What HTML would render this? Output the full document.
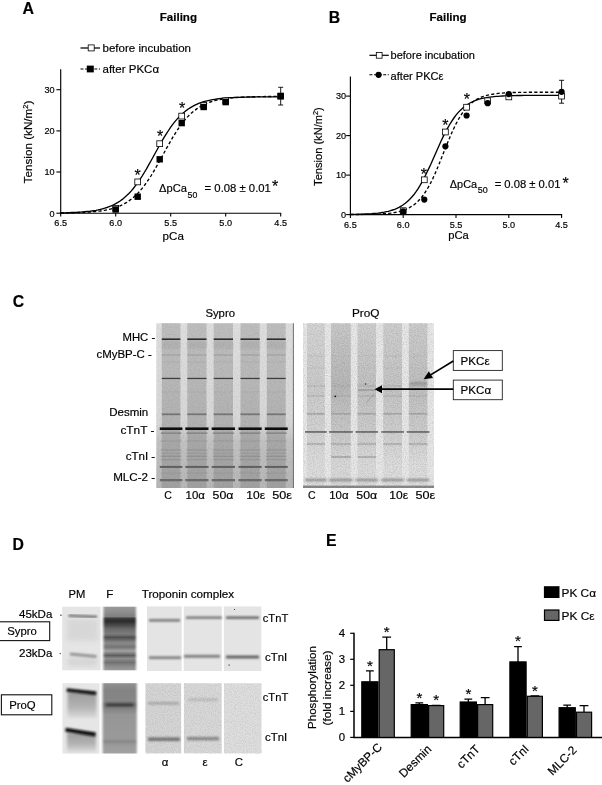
<!DOCTYPE html>
<html><head><meta charset="utf-8"><title>Figure</title>
<style>
html,body{margin:0;padding:0;background:#fff;}
body{width:602px;height:785px;overflow:hidden;font-family:"Liberation Sans",sans-serif;}
svg{display:block}
text{font-family:"Liberation Sans",sans-serif;fill:#000;stroke:#000;stroke-width:0.18px}
.b{font-weight:bold}
</style></head><body>
<svg width="602" height="785" viewBox="0 0 602 785">
<defs>
<filter id="bl1" x="-5%" y="-50%" width="110%" height="200%"><feGaussianBlur stdDeviation="0.6"/></filter>
<filter id="bl2" x="-5%" y="-100%" width="110%" height="300%"><feGaussianBlur stdDeviation="1.2"/></filter>
<filter id="bl3" x="-30%" y="-40%" width="160%" height="180%"><feGaussianBlur stdDeviation="2.5"/></filter>
<filter id="blx" x="-10%" y="-5%" width="120%" height="110%"><feGaussianBlur stdDeviation="0.55 0.1"/></filter>
<filter id="nz" x="0" y="0" width="100%" height="100%"><feTurbulence type="fractalNoise" baseFrequency="0.7" numOctaves="2" seed="3"/><feColorMatrix type="matrix" values="0 0 0 0 0 0 0 0 0 0 0 0 0 0 0 0.9 0 0 0 -0.3"/></filter>
<filter id="nz2" x="0" y="0" width="100%" height="100%"><feTurbulence type="fractalNoise" baseFrequency="0.9" numOctaves="2" seed="8"/><feColorMatrix type="matrix" values="0 0 0 0 0 0 0 0 0 0 0 0 0 0 0 1.3 0 0 0 -0.48"/></filter>
<linearGradient id="laneg" x1="0" y1="0" x2="0" y2="1"><stop offset="0" stop-color="#bfbfbf"/><stop offset="0.33" stop-color="#bababa"/><stop offset="0.62" stop-color="#b2b2b2"/><stop offset="0.7" stop-color="#aaaaaa"/><stop offset="1" stop-color="#a2a2a2"/></linearGradient>
<linearGradient id="gapg" x1="0" y1="0" x2="0" y2="1"><stop offset="0" stop-color="#e0e0e0"/><stop offset="0.6" stop-color="#d9d9d9"/><stop offset="0.72" stop-color="#c4c4c4"/><stop offset="1" stop-color="#b8b8b8"/></linearGradient>
<filter id="bl1b" x="-10%" y="-100%" width="120%" height="300%"><feGaussianBlur stdDeviation="0.9"/></filter>
<filter id="ble" x="-10%" y="-5%" width="120%" height="110%"><feGaussianBlur stdDeviation="0.8 0.6"/></filter>
<linearGradient id="fsy" x1="0" y1="0" x2="0" y2="1">
<stop offset="0" stop-color="#9a9a9a"/><stop offset="0.083" stop-color="#8e8e8e"/><stop offset="0.154" stop-color="#808080"/><stop offset="0.186" stop-color="#3a3a3a"/><stop offset="0.225" stop-color="#2c2c2c"/><stop offset="0.288" stop-color="#484848"/><stop offset="0.35" stop-color="#6a6a6a"/><stop offset="0.43" stop-color="#7c7c7c"/><stop offset="0.484" stop-color="#505050"/><stop offset="0.524" stop-color="#6c6c6c"/><stop offset="0.57" stop-color="#8a8a8a"/><stop offset="0.634" stop-color="#747474"/><stop offset="0.697" stop-color="#a2a2a2"/><stop offset="0.767" stop-color="#5e5e5e"/><stop offset="0.814" stop-color="#8c8c8c"/><stop offset="0.877" stop-color="#727272"/><stop offset="0.932" stop-color="#8a8a8a"/><stop offset="1" stop-color="#9c9c9c"/></linearGradient>
<linearGradient id="fpq" x1="0" y1="0" x2="0" y2="1">
<stop offset="0" stop-color="#909090"/><stop offset="0.1" stop-color="#848484"/><stop offset="0.25" stop-color="#868686"/><stop offset="0.285" stop-color="#787878"/><stop offset="0.315" stop-color="#747474"/><stop offset="0.35" stop-color="#808080"/><stop offset="0.45" stop-color="#969696"/><stop offset="0.78" stop-color="#9a9a9a"/><stop offset="0.83" stop-color="#8a8a8a"/><stop offset="0.88" stop-color="#9a9a9a"/><stop offset="1" stop-color="#a2a2a2"/></linearGradient>
<linearGradient id="smg" x1="0" y1="0" x2="0" y2="1"><stop offset="0" stop-color="#9c9c9c"/><stop offset="0.6" stop-color="#b4b4b4"/><stop offset="1" stop-color="#dcdcdc"/></linearGradient>
<filter id="bl2b" x="-20%" y="-20%" width="140%" height="140%"><feGaussianBlur stdDeviation="1.6"/></filter>
<linearGradient id="pl0" x1="0" y1="0" x2="0" y2="1"><stop offset="0" stop-color="#d6d6d6"/><stop offset="0.38" stop-color="#cdcdcd"/><stop offset="0.66" stop-color="#d4d4d4"/><stop offset="0.85" stop-color="#dedede"/><stop offset="1" stop-color="#dedede"/></linearGradient>
<linearGradient id="pl1" x1="0" y1="0" x2="0" y2="1"><stop offset="0" stop-color="#cacaca"/><stop offset="0.38" stop-color="#b9b9b9"/><stop offset="0.66" stop-color="#cacaca"/><stop offset="0.85" stop-color="#dadada"/><stop offset="1" stop-color="#dadada"/></linearGradient>
<linearGradient id="pl2" x1="0" y1="0" x2="0" y2="1"><stop offset="0" stop-color="#d0d0d0"/><stop offset="0.38" stop-color="#c3c3c3"/><stop offset="0.66" stop-color="#cecece"/><stop offset="0.85" stop-color="#dcdcdc"/><stop offset="1" stop-color="#dcdcdc"/></linearGradient>
<linearGradient id="pl3" x1="0" y1="0" x2="0" y2="1"><stop offset="0" stop-color="#d0d0d0"/><stop offset="0.38" stop-color="#c6c6c6"/><stop offset="0.66" stop-color="#d0d0d0"/><stop offset="0.85" stop-color="#dedede"/><stop offset="1" stop-color="#dedede"/></linearGradient>
<linearGradient id="pl4" x1="0" y1="0" x2="0" y2="1"><stop offset="0" stop-color="#cecece"/><stop offset="0.38" stop-color="#c1c1c1"/><stop offset="0.66" stop-color="#cecece"/><stop offset="0.85" stop-color="#dedede"/><stop offset="1" stop-color="#dedede"/></linearGradient>
</defs>
<rect width="602" height="785" fill="#fff"/>

<text x="22.5" y="14.3" font-size="15.9" class="b">A</text>
<text x="159.7" y="21.3" font-size="11.8" textLength="37.3" lengthAdjust="spacingAndGlyphs" class="b">Failing</text>
<path d="M60.7 69.2V213.2H281.2" fill="none" stroke="#000" stroke-width="1.15"/>
<path d="M60.7 213.2v3.3" stroke="#000" stroke-width="1.1"/>
<text x="60.7" y="226.1" font-size="9.1" text-anchor="middle">6.5</text>
<path d="M115.7 213.2v3.3" stroke="#000" stroke-width="1.1"/>
<text x="115.7" y="226.1" font-size="9.1" text-anchor="middle">6.0</text>
<path d="M170.7 213.2v3.3" stroke="#000" stroke-width="1.1"/>
<text x="170.7" y="226.1" font-size="9.1" text-anchor="middle">5.5</text>
<path d="M225.7 213.2v3.3" stroke="#000" stroke-width="1.1"/>
<text x="225.7" y="226.1" font-size="9.1" text-anchor="middle">5.0</text>
<path d="M280.7 213.2v3.3" stroke="#000" stroke-width="1.1"/>
<text x="280.7" y="226.1" font-size="9.1" text-anchor="middle">4.5</text>
<path d="M60.7 213.2h-4.3" stroke="#000" stroke-width="1.1"/>
<text x="54.6" y="216.5" font-size="9.1" text-anchor="end">0</text>
<path d="M60.7 172.0h-4.3" stroke="#000" stroke-width="1.1"/>
<text x="54.6" y="175.3" font-size="9.1" text-anchor="end">10</text>
<path d="M60.7 130.9h-4.3" stroke="#000" stroke-width="1.1"/>
<text x="54.6" y="134.2" font-size="9.1" text-anchor="end">20</text>
<path d="M60.7 89.7h-4.3" stroke="#000" stroke-width="1.1"/>
<text x="54.6" y="93.0" font-size="9.1" text-anchor="end">30</text>
<path d="M60.7 213.0L62.9 213.0L65.1 213.0L67.3 212.9L69.5 212.9L71.7 212.8L73.9 212.8L76.1 212.7L78.3 212.6L80.5 212.5L82.7 212.5L84.9 212.3L87.1 212.2L89.3 212.1L91.5 211.9L93.7 211.7L95.9 211.5L98.1 211.2L100.3 211.0L102.5 210.6L104.7 210.3L106.9 209.8L109.1 209.4L111.3 208.8L113.5 208.2L115.7 207.5L117.9 206.7L120.1 205.8L122.3 204.8L124.5 203.6L126.7 202.4L128.9 200.9L131.1 199.3L133.3 197.5L135.5 195.6L137.7 193.4L139.9 191.0L142.1 188.4L144.3 185.6L146.5 182.6L148.7 179.4L150.9 176.0L153.1 172.4L155.3 168.6L157.5 164.8L159.7 160.8L161.9 156.8L164.1 152.7L166.3 148.7L168.5 144.8L170.7 140.9L172.9 137.2L175.1 133.6L177.3 130.2L179.5 126.9L181.7 123.9L183.9 121.1L186.1 118.5L188.3 116.1L190.5 114.0L192.7 112.0L194.9 110.2L197.1 108.6L199.3 107.2L201.5 105.9L203.7 104.8L205.9 103.7L208.1 102.8L210.3 102.0L212.5 101.3L214.7 100.7L216.9 100.2L219.1 99.7L221.3 99.3L223.5 98.9L225.7 98.6L227.9 98.3L230.1 98.0L232.3 97.8L234.5 97.6L236.7 97.5L238.9 97.3L241.1 97.2L243.3 97.1L245.5 97.0L247.7 96.9L249.9 96.8L252.1 96.8L254.3 96.7L256.5 96.7L258.7 96.6L260.9 96.6L263.1 96.6L265.3 96.5L267.5 96.5L269.7 96.5L271.9 96.5L274.1 96.4L276.3 96.4L278.5 96.4L280.7 96.4" fill="none" stroke="#000" stroke-width="1.35" stroke-dasharray="3.2 2.2"/>
<path d="M60.7 212.9L62.9 212.8L65.1 212.8L67.3 212.7L69.5 212.6L71.7 212.5L73.9 212.5L76.1 212.3L78.3 212.2L80.5 212.1L82.7 211.9L84.9 211.7L87.1 211.5L89.3 211.3L91.5 211.0L93.7 210.6L95.9 210.3L98.1 209.9L100.3 209.4L102.5 208.8L104.7 208.2L106.9 207.5L109.1 206.7L111.3 205.8L113.5 204.8L115.7 203.7L117.9 202.4L120.1 201.0L122.3 199.4L124.5 197.6L126.7 195.6L128.9 193.5L131.1 191.1L133.3 188.5L135.5 185.7L137.7 182.7L139.9 179.5L142.1 176.1L144.3 172.5L146.5 168.8L148.7 164.9L150.9 161.0L153.1 157.0L155.3 153.0L157.5 149.0L159.7 145.0L161.9 141.2L164.1 137.4L166.3 133.9L168.5 130.5L170.7 127.2L172.9 124.2L175.1 121.4L177.3 118.9L179.5 116.5L181.7 114.3L183.9 112.4L186.1 110.6L188.3 109.0L190.5 107.6L192.7 106.3L194.9 105.1L197.1 104.1L199.3 103.2L201.5 102.4L203.7 101.7L205.9 101.1L208.1 100.6L210.3 100.1L212.5 99.7L214.7 99.3L216.9 99.0L219.1 98.7L221.3 98.4L223.5 98.2L225.7 98.0L227.9 97.9L230.1 97.7L232.3 97.6L234.5 97.5L236.7 97.4L238.9 97.3L241.1 97.2L243.3 97.2L245.5 97.1L247.7 97.1L249.9 97.0L252.1 97.0L254.3 97.0L256.5 96.9L258.7 96.9L260.9 96.9L263.1 96.9L265.3 96.9L267.5 96.8L269.7 96.8L271.9 96.8L274.1 96.8L276.3 96.8L278.5 96.8L280.7 96.8" fill="none" stroke="#000" stroke-width="1.35"/>
<path d="M280.7 87.3V105.0M278.2 87.3h5M278.2 105.0h5" stroke="#000" stroke-width="0.9" fill="none"/>
<rect x="112.8" y="205.4" width="5.8" height="5.8" fill="#fff" stroke="#000" stroke-width="0.8"/>
<rect x="134.8" y="179.0" width="5.8" height="5.8" fill="#fff" stroke="#000" stroke-width="0.8"/>
<rect x="156.8" y="140.8" width="5.8" height="5.8" fill="#fff" stroke="#000" stroke-width="0.8"/>
<rect x="178.8" y="113.2" width="5.8" height="5.8" fill="#fff" stroke="#000" stroke-width="0.8"/>
<rect x="200.8" y="102.5" width="5.8" height="5.8" fill="#fff" stroke="#000" stroke-width="0.8"/>
<rect x="222.8" y="98.0" width="5.8" height="5.8" fill="#fff" stroke="#000" stroke-width="0.8"/>
<rect x="277.8" y="93.4" width="5.8" height="5.8" fill="#fff" stroke="#000" stroke-width="0.8"/>
<rect x="112.5" y="206.3" width="6.4" height="6.4" fill="#000"/>
<rect x="134.5" y="193.5" width="6.4" height="6.4" fill="#000"/>
<rect x="156.5" y="156.1" width="6.4" height="6.4" fill="#000"/>
<rect x="178.5" y="119.9" width="6.4" height="6.4" fill="#000"/>
<rect x="200.5" y="103.8" width="6.4" height="6.4" fill="#000"/>
<rect x="222.5" y="98.9" width="6.4" height="6.4" fill="#000"/>
<rect x="277.5" y="92.7" width="6.4" height="6.4" fill="#000"/>
<path d="M80.5 48h19.5" stroke="#000" stroke-width="1.25"/><rect x="88.2" y="44.9" width="6" height="6" fill="#fff" stroke="#000" stroke-width="0.8"/>
<text x="102.5" y="52" font-size="11.6" textLength="88.5" lengthAdjust="spacingAndGlyphs">before incubation</text>
<path d="M80.5 69h19.5" stroke="#000" stroke-width="1.1" stroke-dasharray="3 1.6"/><rect x="86.8" y="65.6" width="7" height="6.8" fill="#000"/>
<text x="102.5" y="73" font-size="11.6" textLength="56.6" lengthAdjust="spacingAndGlyphs">after PKCα</text>
<text transform="translate(32.3,142) rotate(-90)" font-size="11.7" text-anchor="middle">Tension (kN/m<tspan dy="-4" font-size="7.5">2</tspan><tspan dy="4">)</tspan></text>
<text x="162.6" y="239.6" font-size="11.8" textLength="21.3" lengthAdjust="spacingAndGlyphs">pCa</text>
<text x="159.1" y="192.4" font-size="11.8" textLength="27.9" lengthAdjust="spacingAndGlyphs">ΔpCa</text>
<text x="187.6" y="198" font-size="9.8" textLength="9.8" lengthAdjust="spacingAndGlyphs">50</text>
<text x="204.6" y="192.4" font-size="11.6" textLength="66.3" lengthAdjust="spacingAndGlyphs">= 0.08 ± 0.01</text>
<text x="275.0" y="192.3" font-size="16" text-anchor="middle">*</text>
<text x="137.5" y="181.3" font-size="16" text-anchor="middle">*</text>
<text x="160.0" y="142.3" font-size="16" text-anchor="middle">*</text>
<text x="182.0" y="113.8" font-size="16" text-anchor="middle">*</text>
<text x="328.8" y="23" font-size="15.8" class="b">B</text>
<text x="429.5" y="20.9" font-size="11.8" textLength="37.1" lengthAdjust="spacingAndGlyphs" class="b">Failing</text>
<path d="M350.4 76.4V214.6H562.0999999999999" fill="none" stroke="#000" stroke-width="1.15"/>
<path d="M350.4 214.6v3.3" stroke="#000" stroke-width="1.1"/>
<text x="350.4" y="227.5" font-size="9.1" text-anchor="middle">6.5</text>
<path d="M403.2 214.6v3.3" stroke="#000" stroke-width="1.1"/>
<text x="403.2" y="227.5" font-size="9.1" text-anchor="middle">6.0</text>
<path d="M456.0 214.6v3.3" stroke="#000" stroke-width="1.1"/>
<text x="456.0" y="227.5" font-size="9.1" text-anchor="middle">5.5</text>
<path d="M508.8 214.6v3.3" stroke="#000" stroke-width="1.1"/>
<text x="508.8" y="227.5" font-size="9.1" text-anchor="middle">5.0</text>
<path d="M561.6 214.6v3.3" stroke="#000" stroke-width="1.1"/>
<text x="561.6" y="227.5" font-size="9.1" text-anchor="middle">4.5</text>
<path d="M350.4 214.6h-4.3" stroke="#000" stroke-width="1.1"/>
<text x="346" y="217.9" font-size="9.1" text-anchor="end">0</text>
<path d="M350.4 175.1h-4.3" stroke="#000" stroke-width="1.1"/>
<text x="346" y="178.4" font-size="9.1" text-anchor="end">10</text>
<path d="M350.4 135.6h-4.3" stroke="#000" stroke-width="1.1"/>
<text x="346" y="138.9" font-size="9.1" text-anchor="end">20</text>
<path d="M350.4 96.1h-4.3" stroke="#000" stroke-width="1.1"/>
<text x="346" y="99.4" font-size="9.1" text-anchor="end">30</text>
<path d="M350.4 214.5L352.5 214.5L354.6 214.5L356.7 214.5L358.8 214.5L361.0 214.5L363.1 214.4L365.2 214.4L367.3 214.4L369.4 214.3L371.5 214.3L373.6 214.2L375.7 214.1L377.9 214.1L380.0 214.0L382.1 213.8L384.2 213.7L386.3 213.5L388.4 213.3L390.5 213.1L392.6 212.8L394.8 212.5L396.9 212.0L399.0 211.6L401.1 211.0L403.2 210.3L405.3 209.6L407.4 208.7L409.5 207.6L411.6 206.3L413.8 204.9L415.9 203.2L418.0 201.2L420.1 199.0L422.2 196.5L424.3 193.6L426.4 190.4L428.5 186.8L430.7 182.9L432.8 178.6L434.9 174.0L437.0 169.1L439.1 164.0L441.2 158.7L443.3 153.4L445.4 148.0L447.6 142.8L449.7 137.7L451.8 132.8L453.9 128.2L456.0 123.9L458.1 120.0L460.2 116.4L462.3 113.2L464.4 110.3L466.6 107.7L468.7 105.5L470.8 103.6L472.9 101.9L475.0 100.4L477.1 99.2L479.2 98.1L481.3 97.2L483.5 96.4L485.6 95.7L487.7 95.2L489.8 94.7L491.9 94.3L494.0 94.0L496.1 93.7L498.2 93.4L500.4 93.2L502.5 93.1L504.6 92.9L506.7 92.8L508.8 92.7L510.9 92.6L513.0 92.5L515.1 92.5L517.2 92.4L519.4 92.4L521.5 92.3L523.6 92.3L525.7 92.3L527.8 92.3L529.9 92.2L532.0 92.2L534.1 92.2L536.3 92.2L538.4 92.2L540.5 92.2L542.6 92.2L544.7 92.2L546.8 92.2L548.9 92.2L551.0 92.2L553.2 92.2L555.3 92.2L557.4 92.2L559.5 92.2L561.6 92.2" fill="none" stroke="#000" stroke-width="1.35" stroke-dasharray="3.2 2.2"/>
<path d="M350.4 214.4L352.5 214.4L354.6 214.3L356.7 214.3L358.8 214.2L361.0 214.2L363.1 214.1L365.2 214.0L367.3 213.9L369.4 213.8L371.5 213.7L373.6 213.5L375.7 213.3L377.9 213.1L380.0 212.8L382.1 212.5L384.2 212.2L386.3 211.7L388.4 211.3L390.5 210.7L392.6 210.0L394.8 209.3L396.9 208.4L399.0 207.4L401.1 206.2L403.2 204.8L405.3 203.3L407.4 201.5L409.5 199.5L411.6 197.3L413.8 194.8L415.9 191.9L418.0 188.8L420.1 185.4L422.2 181.7L424.3 177.8L426.4 173.5L428.5 169.1L430.7 164.5L432.8 159.8L434.9 155.0L437.0 150.2L439.1 145.4L441.2 140.8L443.3 136.4L445.4 132.1L447.6 128.2L449.7 124.5L451.8 121.1L453.9 118.0L456.0 115.2L458.1 112.6L460.2 110.4L462.3 108.4L464.4 106.6L466.6 105.1L468.7 103.7L470.8 102.5L472.9 101.5L475.0 100.6L477.1 99.9L479.2 99.2L481.3 98.7L483.5 98.2L485.6 97.8L487.7 97.4L489.8 97.1L491.9 96.8L494.0 96.6L496.1 96.4L498.2 96.3L500.4 96.1L502.5 96.0L504.6 95.9L506.7 95.8L508.8 95.7L510.9 95.7L513.0 95.6L515.1 95.6L517.2 95.5L519.4 95.5L521.5 95.5L523.6 95.4L525.7 95.4L527.8 95.4L529.9 95.4L532.0 95.4L534.1 95.4L536.3 95.4L538.4 95.4L540.5 95.3L542.6 95.3L544.7 95.3L546.8 95.3L548.9 95.3L551.0 95.3L553.2 95.3L555.3 95.3L557.4 95.3L559.5 95.3L561.6 95.3" fill="none" stroke="#000" stroke-width="1.35"/>
<path d="M561.6 80.3V103.2M559.1 80.3h5M559.1 103.2h5" stroke="#000" stroke-width="0.9" fill="none"/>
<rect x="400.3" y="207.8" width="5.8" height="5.8" fill="#fff" stroke="#000" stroke-width="0.8"/>
<rect x="421.4" y="176.9" width="5.8" height="5.8" fill="#fff" stroke="#000" stroke-width="0.8"/>
<rect x="442.5" y="129.1" width="5.8" height="5.8" fill="#fff" stroke="#000" stroke-width="0.8"/>
<rect x="463.7" y="104.3" width="5.8" height="5.8" fill="#fff" stroke="#000" stroke-width="0.8"/>
<rect x="484.8" y="97.9" width="5.8" height="5.8" fill="#fff" stroke="#000" stroke-width="0.8"/>
<rect x="505.9" y="94.0" width="5.8" height="5.8" fill="#fff" stroke="#000" stroke-width="0.8"/>
<rect x="558.7" y="93.2" width="5.8" height="5.8" fill="#fff" stroke="#000" stroke-width="0.8"/>
<circle cx="403.2" cy="211.4" r="3.1" fill="#000"/>
<circle cx="424.3" cy="199.6" r="3.1" fill="#000"/>
<circle cx="445.4" cy="146.3" r="3.1" fill="#000"/>
<circle cx="466.6" cy="115.5" r="3.1" fill="#000"/>
<circle cx="487.7" cy="103.2" r="3.1" fill="#000"/>
<circle cx="508.8" cy="94.1" r="3.1" fill="#000"/>
<circle cx="561.6" cy="91.8" r="3.1" fill="#000"/>
<path d="M369.4 55.3h19.4" stroke="#000" stroke-width="1.2"/><rect x="376.3" y="52.4" width="5.8" height="5.8" fill="#fff" stroke="#000" stroke-width="0.8"/>
<text x="390.6" y="59.3" font-size="11.1" textLength="84.3" lengthAdjust="spacingAndGlyphs">before incubation</text>
<path d="M369.4 74.8h19.4" stroke="#000" stroke-width="1.1" stroke-dasharray="3 1.6"/><circle cx="378.6" cy="74.8" r="3.1" fill="#000"/>
<text x="390.6" y="79.6" font-size="11.1" textLength="52.9" lengthAdjust="spacingAndGlyphs">after PKCε</text>
<text transform="translate(321.8,146.6) rotate(-90)" font-size="11.1" text-anchor="middle">Tension (kN/m<tspan dy="-4" font-size="7.2">2</tspan><tspan dy="4">)</tspan></text>
<text x="448.2" y="239.4" font-size="11.4" textLength="20.6" lengthAdjust="spacingAndGlyphs">pCa</text>
<text x="449.8" y="187.9" font-size="11.4" textLength="27.3" lengthAdjust="spacingAndGlyphs">ΔpCa</text>
<text x="477.8" y="192.9" font-size="9.8" textLength="10" lengthAdjust="spacingAndGlyphs">50</text>
<text x="494.7" y="187.9" font-size="11.4" textLength="65.8" lengthAdjust="spacingAndGlyphs">= 0.08 ± 0.01</text>
<text x="565.7" y="188.8" font-size="16" text-anchor="middle">*</text>
<text x="423.8" y="180.1" font-size="16" text-anchor="middle">*</text>
<text x="445.4" y="130.9" font-size="16" text-anchor="middle">*</text>
<text x="466.9" y="105.0" font-size="16" text-anchor="middle">*</text>
<text x="12.8" y="307.1" font-size="15.8" class="b">C</text>
<text x="205.4" y="316.6" font-size="11.4" textLength="29.6" lengthAdjust="spacingAndGlyphs">Sypro</text>
<text x="352" y="316.6" font-size="11.4" textLength="27.5" lengthAdjust="spacingAndGlyphs">ProQ</text>
<text x="122.5" y="341.3" font-size="11.4" textLength="32.7" lengthAdjust="spacingAndGlyphs">MHC -</text>
<text x="96.5" y="358.3" font-size="11.4" textLength="55.3" lengthAdjust="spacingAndGlyphs">cMyBP-C -</text>
<text x="109.2" y="416.3" font-size="11.4" textLength="39.1" lengthAdjust="spacingAndGlyphs">Desmin</text>
<text x="120.4" y="433.5" font-size="11.4" textLength="34.0" lengthAdjust="spacingAndGlyphs">cTnT -</text>
<text x="125.7" y="459.6" font-size="11.4" textLength="29.5" lengthAdjust="spacingAndGlyphs">cTnI -</text>
<text x="113.2" y="481.4" font-size="11.4" textLength="42.0" lengthAdjust="spacingAndGlyphs">MLC-2 -</text>
<rect x="156.3" y="323.3" width="137.7" height="164.7" fill="url(#gapg)"/>
<g filter="url(#blx)">
<rect x="161.8" y="323.3" width="18.6" height="164.7" fill="url(#laneg)"/>
<rect x="187.3" y="323.3" width="19.2" height="164.7" fill="url(#laneg)"/>
<rect x="213.7" y="323.3" width="19.3" height="164.7" fill="url(#laneg)"/>
<rect x="240.5" y="323.3" width="19.2" height="164.7" fill="url(#laneg)"/>
<rect x="266.8" y="323.3" width="18.9" height="164.7" fill="url(#laneg)"/>
</g>
<rect x="154.3" y="488" width="141.7" height="6" fill="#fff"/>
<path d="M293.4 323.3V488" stroke="#666" stroke-width="0.9"/>
<rect x="161.8" y="338.4" width="18.6" height="1.6" fill="#2c2c2c" opacity="1" filter="url(#bl1)"/>
<rect x="161.8" y="341.0" width="18.6" height="8" fill="#aaa" opacity="0.5" filter="url(#bl2)"/>
<rect x="161.8" y="354.4" width="18.6" height="1.2" fill="#999" opacity="0.7" filter="url(#bl1)"/>
<rect x="161.8" y="361.4" width="18.6" height="1.2" fill="#aaa" opacity="0.5" filter="url(#bl1)"/>
<rect x="161.8" y="377.8" width="18.6" height="1.3" fill="#404040" opacity="1" filter="url(#bl1)"/>
<rect x="161.8" y="391.4" width="18.6" height="1.2" fill="#aaa" opacity="0.5" filter="url(#bl1)"/>
<rect x="161.8" y="413.4" width="18.6" height="1.8" fill="#777" opacity="1" filter="url(#bl1)"/>
<rect x="159.8" y="427.4" width="22.6" height="2.6" fill="#101010" opacity="1" filter="url(#bl1)"/>
<rect x="160.8" y="432.4" width="20.6" height="1.5" fill="#777" opacity="0.7" filter="url(#bl1)"/>
<rect x="160.8" y="440.4" width="20.6" height="1.3" fill="#999" opacity="0.6" filter="url(#bl1)"/>
<rect x="160.8" y="449.3" width="20.6" height="1.4" fill="#8c8c8c" opacity="0.5" filter="url(#bl1)"/>
<rect x="160.8" y="452.6" width="20.6" height="1.3" fill="#909090" opacity="0.4" filter="url(#bl1)"/>
<rect x="160.8" y="455.6" width="20.6" height="1.4" fill="#888" opacity="0.55" filter="url(#bl1)"/>
<rect x="160.8" y="458.9" width="20.6" height="1.4" fill="#8c8c8c" opacity="0.5" filter="url(#bl1)"/>
<rect x="159.8" y="465.9" width="22.6" height="2.0" fill="#5e5e5e" opacity="0.95" filter="url(#bl1)"/>
<rect x="160.8" y="472.4" width="20.6" height="1.3" fill="#999" opacity="0.6" filter="url(#bl1)"/>
<rect x="159.8" y="479.0" width="22.6" height="2.3" fill="#6a6a6a" opacity="0.95" filter="url(#bl1)"/>
<rect x="187.3" y="338.4" width="19.2" height="1.6" fill="#2c2c2c" opacity="1" filter="url(#bl1)"/>
<rect x="187.3" y="341.0" width="19.2" height="8" fill="#aaa" opacity="0.5" filter="url(#bl2)"/>
<rect x="187.3" y="354.4" width="19.2" height="1.2" fill="#999" opacity="0.7" filter="url(#bl1)"/>
<rect x="187.3" y="361.4" width="19.2" height="1.2" fill="#aaa" opacity="0.5" filter="url(#bl1)"/>
<rect x="187.3" y="377.8" width="19.2" height="1.3" fill="#404040" opacity="1" filter="url(#bl1)"/>
<rect x="187.3" y="391.4" width="19.2" height="1.2" fill="#aaa" opacity="0.5" filter="url(#bl1)"/>
<rect x="187.3" y="413.4" width="19.2" height="1.8" fill="#777" opacity="1" filter="url(#bl1)"/>
<rect x="185.3" y="427.4" width="23.2" height="2.6" fill="#101010" opacity="1" filter="url(#bl1)"/>
<rect x="186.3" y="432.4" width="21.2" height="1.5" fill="#777" opacity="0.7" filter="url(#bl1)"/>
<rect x="186.3" y="440.4" width="21.2" height="1.3" fill="#999" opacity="0.6" filter="url(#bl1)"/>
<rect x="186.3" y="449.3" width="21.2" height="1.4" fill="#8c8c8c" opacity="0.5" filter="url(#bl1)"/>
<rect x="186.3" y="452.6" width="21.2" height="1.3" fill="#909090" opacity="0.4" filter="url(#bl1)"/>
<rect x="186.3" y="455.6" width="21.2" height="1.4" fill="#888" opacity="0.55" filter="url(#bl1)"/>
<rect x="186.3" y="458.9" width="21.2" height="1.4" fill="#8c8c8c" opacity="0.5" filter="url(#bl1)"/>
<rect x="185.3" y="465.9" width="23.2" height="2.0" fill="#5e5e5e" opacity="0.95" filter="url(#bl1)"/>
<rect x="186.3" y="472.4" width="21.2" height="1.3" fill="#999" opacity="0.6" filter="url(#bl1)"/>
<rect x="185.3" y="479.0" width="23.2" height="2.3" fill="#6a6a6a" opacity="0.95" filter="url(#bl1)"/>
<rect x="213.7" y="338.4" width="19.3" height="1.6" fill="#2c2c2c" opacity="1" filter="url(#bl1)"/>
<rect x="213.7" y="341.0" width="19.3" height="8" fill="#aaa" opacity="0.5" filter="url(#bl2)"/>
<rect x="213.7" y="354.4" width="19.3" height="1.2" fill="#999" opacity="0.7" filter="url(#bl1)"/>
<rect x="213.7" y="361.4" width="19.3" height="1.2" fill="#aaa" opacity="0.5" filter="url(#bl1)"/>
<rect x="213.7" y="377.8" width="19.3" height="1.3" fill="#404040" opacity="1" filter="url(#bl1)"/>
<rect x="213.7" y="391.4" width="19.3" height="1.2" fill="#aaa" opacity="0.5" filter="url(#bl1)"/>
<rect x="213.7" y="413.4" width="19.3" height="1.8" fill="#777" opacity="1" filter="url(#bl1)"/>
<rect x="211.7" y="427.4" width="23.3" height="2.6" fill="#101010" opacity="1" filter="url(#bl1)"/>
<rect x="212.7" y="432.4" width="21.3" height="1.5" fill="#777" opacity="0.7" filter="url(#bl1)"/>
<rect x="212.7" y="440.4" width="21.3" height="1.3" fill="#999" opacity="0.6" filter="url(#bl1)"/>
<rect x="212.7" y="449.3" width="21.3" height="1.4" fill="#8c8c8c" opacity="0.5" filter="url(#bl1)"/>
<rect x="212.7" y="452.6" width="21.3" height="1.3" fill="#909090" opacity="0.4" filter="url(#bl1)"/>
<rect x="212.7" y="455.6" width="21.3" height="1.4" fill="#888" opacity="0.55" filter="url(#bl1)"/>
<rect x="212.7" y="458.9" width="21.3" height="1.4" fill="#8c8c8c" opacity="0.5" filter="url(#bl1)"/>
<rect x="211.7" y="465.9" width="23.3" height="2.0" fill="#5e5e5e" opacity="0.95" filter="url(#bl1)"/>
<rect x="212.7" y="472.4" width="21.3" height="1.3" fill="#999" opacity="0.6" filter="url(#bl1)"/>
<rect x="211.7" y="479.0" width="23.3" height="2.3" fill="#6a6a6a" opacity="0.95" filter="url(#bl1)"/>
<rect x="240.5" y="338.4" width="19.2" height="1.6" fill="#2c2c2c" opacity="1" filter="url(#bl1)"/>
<rect x="240.5" y="341.0" width="19.2" height="8" fill="#aaa" opacity="0.5" filter="url(#bl2)"/>
<rect x="240.5" y="354.4" width="19.2" height="1.2" fill="#999" opacity="0.7" filter="url(#bl1)"/>
<rect x="240.5" y="361.4" width="19.2" height="1.2" fill="#aaa" opacity="0.5" filter="url(#bl1)"/>
<rect x="240.5" y="377.8" width="19.2" height="1.3" fill="#404040" opacity="1" filter="url(#bl1)"/>
<rect x="240.5" y="391.4" width="19.2" height="1.2" fill="#aaa" opacity="0.5" filter="url(#bl1)"/>
<rect x="240.5" y="413.4" width="19.2" height="1.8" fill="#777" opacity="1" filter="url(#bl1)"/>
<rect x="238.5" y="427.4" width="23.2" height="2.6" fill="#101010" opacity="1" filter="url(#bl1)"/>
<rect x="239.5" y="432.4" width="21.2" height="1.5" fill="#777" opacity="0.7" filter="url(#bl1)"/>
<rect x="239.5" y="440.4" width="21.2" height="1.3" fill="#999" opacity="0.6" filter="url(#bl1)"/>
<rect x="239.5" y="449.3" width="21.2" height="1.4" fill="#8c8c8c" opacity="0.5" filter="url(#bl1)"/>
<rect x="239.5" y="452.6" width="21.2" height="1.3" fill="#909090" opacity="0.4" filter="url(#bl1)"/>
<rect x="239.5" y="455.6" width="21.2" height="1.4" fill="#888" opacity="0.55" filter="url(#bl1)"/>
<rect x="239.5" y="458.9" width="21.2" height="1.4" fill="#8c8c8c" opacity="0.5" filter="url(#bl1)"/>
<rect x="238.5" y="465.9" width="23.2" height="2.0" fill="#5e5e5e" opacity="0.95" filter="url(#bl1)"/>
<rect x="239.5" y="472.4" width="21.2" height="1.3" fill="#999" opacity="0.6" filter="url(#bl1)"/>
<rect x="238.5" y="479.0" width="23.2" height="2.3" fill="#6a6a6a" opacity="0.95" filter="url(#bl1)"/>
<rect x="266.8" y="338.4" width="18.9" height="1.6" fill="#2c2c2c" opacity="1" filter="url(#bl1)"/>
<rect x="266.8" y="341.0" width="18.9" height="8" fill="#aaa" opacity="0.5" filter="url(#bl2)"/>
<rect x="266.8" y="354.4" width="18.9" height="1.2" fill="#999" opacity="0.7" filter="url(#bl1)"/>
<rect x="266.8" y="361.4" width="18.9" height="1.2" fill="#aaa" opacity="0.5" filter="url(#bl1)"/>
<rect x="266.8" y="377.8" width="18.9" height="1.3" fill="#404040" opacity="1" filter="url(#bl1)"/>
<rect x="266.8" y="391.4" width="18.9" height="1.2" fill="#aaa" opacity="0.5" filter="url(#bl1)"/>
<rect x="266.8" y="413.4" width="18.9" height="1.8" fill="#777" opacity="1" filter="url(#bl1)"/>
<rect x="264.8" y="427.4" width="22.9" height="2.6" fill="#101010" opacity="1" filter="url(#bl1)"/>
<rect x="265.8" y="432.4" width="20.9" height="1.5" fill="#777" opacity="0.7" filter="url(#bl1)"/>
<rect x="265.8" y="440.4" width="20.9" height="1.3" fill="#999" opacity="0.6" filter="url(#bl1)"/>
<rect x="265.8" y="449.3" width="20.9" height="1.4" fill="#8c8c8c" opacity="0.5" filter="url(#bl1)"/>
<rect x="265.8" y="452.6" width="20.9" height="1.3" fill="#909090" opacity="0.4" filter="url(#bl1)"/>
<rect x="265.8" y="455.6" width="20.9" height="1.4" fill="#888" opacity="0.55" filter="url(#bl1)"/>
<rect x="265.8" y="458.9" width="20.9" height="1.4" fill="#8c8c8c" opacity="0.5" filter="url(#bl1)"/>
<rect x="264.8" y="465.9" width="22.9" height="2.0" fill="#5e5e5e" opacity="0.95" filter="url(#bl1)"/>
<rect x="265.8" y="472.4" width="20.9" height="1.3" fill="#999" opacity="0.6" filter="url(#bl1)"/>
<rect x="264.8" y="479.0" width="22.9" height="2.3" fill="#6a6a6a" opacity="0.95" filter="url(#bl1)"/>
<rect x="156.3" y="323.3" width="137.7" height="164.7" filter="url(#nz)" opacity="0.14"/>
<text x="164.2" y="498.7" font-size="11.4" textLength="7.6" lengthAdjust="spacingAndGlyphs">C</text>
<text x="185.6" y="498.7" font-size="11.4" textLength="19.3" lengthAdjust="spacingAndGlyphs">10α</text>
<text x="212.6" y="498.7" font-size="11.4" textLength="20.8" lengthAdjust="spacingAndGlyphs">50α</text>
<text x="246.3" y="498.7" font-size="11.4" textLength="18.7" lengthAdjust="spacingAndGlyphs">10ε</text>
<text x="272.2" y="498.7" font-size="11.4" textLength="19.7" lengthAdjust="spacingAndGlyphs">50ε</text>
<rect x="303" y="323.3" width="131" height="164.7" fill="#e9e9e9"/>
<g filter="url(#blx)">
<rect x="307" y="323.3" width="17.8" height="164.7" fill="url(#pl0)"/>
<rect x="331" y="323.3" width="19.8" height="164.7" fill="url(#pl1)"/>
<rect x="357.5" y="323.3" width="18.5" height="164.7" fill="url(#pl2)"/>
<rect x="383.3" y="323.3" width="18.7" height="164.7" fill="url(#pl3)"/>
<rect x="408.8" y="323.3" width="18.6" height="164.7" fill="url(#pl4)"/>
</g>
<rect x="307.0" y="412.9" width="17.8" height="1.8" fill="#a4a4a4" opacity="0.8" filter="url(#bl1)"/>
<rect x="305.0" y="431.2" width="21.8" height="1.5" fill="#606060" opacity="1" filter="url(#bl1)"/>
<rect x="307.0" y="442.9" width="17.8" height="2.2" fill="#b2b2b2" opacity="0.8" filter="url(#bl1)"/>
<rect x="305.0" y="478.9" width="21.8" height="2.2" fill="#8c8c8c" opacity="1" filter="url(#bl1b)"/>
<rect x="307.0" y="395.3" width="17.8" height="1.4" fill="#aaa" opacity="0.6" filter="url(#bl1)"/>
<rect x="307.0" y="385.3" width="17.8" height="1.4" fill="#aaa" opacity="0.5" filter="url(#bl1)"/>
<rect x="307.0" y="355.3" width="17.8" height="1.4" fill="#bbb" opacity="0.5" filter="url(#bl1)"/>
<rect x="307.0" y="367.3" width="17.8" height="1.4" fill="#bbb" opacity="0.5" filter="url(#bl1)"/>
<rect x="331.0" y="412.9" width="19.8" height="1.8" fill="#a4a4a4" opacity="0.8" filter="url(#bl1)"/>
<rect x="329.0" y="431.2" width="23.8" height="1.5" fill="#606060" opacity="1" filter="url(#bl1)"/>
<rect x="331.0" y="442.9" width="19.8" height="2.2" fill="#b2b2b2" opacity="0.8" filter="url(#bl1)"/>
<rect x="331.0" y="456.1" width="19.8" height="1.8" fill="#a6a6a6" opacity="0.8" filter="url(#bl1)"/>
<rect x="329.0" y="478.9" width="23.8" height="2.2" fill="#8c8c8c" opacity="1" filter="url(#bl1b)"/>
<rect x="331.0" y="395.3" width="19.8" height="1.4" fill="#aaa" opacity="0.6" filter="url(#bl1)"/>
<rect x="331.0" y="385.3" width="19.8" height="1.4" fill="#aaa" opacity="0.5" filter="url(#bl1)"/>
<rect x="331.0" y="355.3" width="19.8" height="1.4" fill="#bbb" opacity="0.5" filter="url(#bl1)"/>
<rect x="331.0" y="367.3" width="19.8" height="1.4" fill="#bbb" opacity="0.5" filter="url(#bl1)"/>
<rect x="357.5" y="412.9" width="18.5" height="1.8" fill="#a4a4a4" opacity="0.8" filter="url(#bl1)"/>
<rect x="355.5" y="431.2" width="22.5" height="1.5" fill="#606060" opacity="1" filter="url(#bl1)"/>
<rect x="357.5" y="442.9" width="18.5" height="2.2" fill="#b2b2b2" opacity="0.8" filter="url(#bl1)"/>
<rect x="357.5" y="456.1" width="18.5" height="1.8" fill="#a6a6a6" opacity="0.8" filter="url(#bl1)"/>
<rect x="355.5" y="478.9" width="22.5" height="2.2" fill="#8c8c8c" opacity="1" filter="url(#bl1b)"/>
<rect x="357.5" y="395.3" width="18.5" height="1.4" fill="#aaa" opacity="0.6" filter="url(#bl1)"/>
<rect x="357.5" y="385.3" width="18.5" height="1.4" fill="#aaa" opacity="0.5" filter="url(#bl1)"/>
<rect x="357.5" y="355.3" width="18.5" height="1.4" fill="#bbb" opacity="0.5" filter="url(#bl1)"/>
<rect x="357.5" y="367.3" width="18.5" height="1.4" fill="#bbb" opacity="0.5" filter="url(#bl1)"/>
<rect x="383.3" y="412.9" width="18.7" height="1.8" fill="#a4a4a4" opacity="0.8" filter="url(#bl1)"/>
<rect x="381.3" y="431.2" width="22.7" height="1.5" fill="#606060" opacity="1" filter="url(#bl1)"/>
<rect x="383.3" y="442.9" width="18.7" height="2.2" fill="#b2b2b2" opacity="0.8" filter="url(#bl1)"/>
<rect x="381.3" y="478.9" width="22.7" height="2.2" fill="#8c8c8c" opacity="1" filter="url(#bl1b)"/>
<rect x="383.3" y="395.3" width="18.7" height="1.4" fill="#aaa" opacity="0.6" filter="url(#bl1)"/>
<rect x="383.3" y="385.3" width="18.7" height="1.4" fill="#aaa" opacity="0.5" filter="url(#bl1)"/>
<rect x="383.3" y="355.3" width="18.7" height="1.4" fill="#bbb" opacity="0.5" filter="url(#bl1)"/>
<rect x="383.3" y="367.3" width="18.7" height="1.4" fill="#bbb" opacity="0.5" filter="url(#bl1)"/>
<rect x="408.8" y="412.9" width="18.6" height="1.8" fill="#a4a4a4" opacity="0.8" filter="url(#bl1)"/>
<rect x="406.8" y="431.2" width="22.6" height="1.5" fill="#606060" opacity="1" filter="url(#bl1)"/>
<rect x="408.8" y="442.9" width="18.6" height="2.2" fill="#b2b2b2" opacity="0.8" filter="url(#bl1)"/>
<rect x="406.8" y="478.9" width="22.6" height="2.2" fill="#8c8c8c" opacity="1" filter="url(#bl1b)"/>
<rect x="408.8" y="395.3" width="18.6" height="1.4" fill="#aaa" opacity="0.6" filter="url(#bl1)"/>
<rect x="408.8" y="385.3" width="18.6" height="1.4" fill="#aaa" opacity="0.5" filter="url(#bl1)"/>
<rect x="408.8" y="355.3" width="18.6" height="1.4" fill="#bbb" opacity="0.5" filter="url(#bl1)"/>
<rect x="408.8" y="367.3" width="18.6" height="1.4" fill="#bbb" opacity="0.5" filter="url(#bl1)"/>
<rect x="410.0" y="382.3" width="17.0" height="2.8" fill="#909090" opacity="0.85" filter="url(#bl1b)"/>
<rect x="358.0" y="389.2" width="18.0" height="1.6" fill="#999" opacity="0.8" filter="url(#bl1)"/>
<rect x="303" y="485.6" width="131" height="2.4" fill="#8a8a8a" filter="url(#bl1)"/>
<rect x="301" y="488" width="135" height="6" fill="#fff"/>
<rect x="303" y="323.3" width="131" height="164.7" filter="url(#nz2)" opacity="0.2"/>
<circle cx="335.3" cy="396.3" r="0.9" fill="#111"/><circle cx="365.5" cy="384" r="0.7" fill="#222"/>
<path d="M366 403l8-9" stroke="#777" stroke-width="0.5"/>
<text x="308" y="498.7" font-size="11.4" textLength="7.6" lengthAdjust="spacingAndGlyphs">C</text>
<text x="329.2" y="498.7" font-size="11.4" textLength="19.3" lengthAdjust="spacingAndGlyphs">10α</text>
<text x="356.3" y="498.7" font-size="11.4" textLength="20.8" lengthAdjust="spacingAndGlyphs">50α</text>
<text x="389.3" y="498.7" font-size="11.4" textLength="18.7" lengthAdjust="spacingAndGlyphs">10ε</text>
<text x="415.4" y="498.7" font-size="11.4" textLength="19.7" lengthAdjust="spacingAndGlyphs">50ε</text>
<rect x="453.3" y="350.6" width="49" height="19.8" fill="#fff" stroke="#222" stroke-width="0.9"/>
<rect x="453.3" y="380.1" width="49" height="19.6" fill="#fff" stroke="#222" stroke-width="0.9"/>
<text x="460.6" y="364.8" font-size="11.6" textLength="29" lengthAdjust="spacingAndGlyphs">PKCε</text>
<text x="460.6" y="394.2" font-size="11.6" textLength="30.5" lengthAdjust="spacingAndGlyphs">PKCα</text>
<path d="M453.3 361L429 375.9" stroke="#000" stroke-width="1.7"/><path d="M423.6 379.3l5.2-8 4.2 6.8z" fill="#000"/>
<path d="M453.3 389.2H381" stroke="#000" stroke-width="1.8"/><path d="M374.6 389.2l7.4-4v8z" fill="#000"/>
<text x="12.5" y="550" font-size="15.8" class="b">D</text>
<text x="68.6" y="597.8" font-size="11.6" textLength="16.8" lengthAdjust="spacingAndGlyphs">PM</text>
<text x="106.2" y="597.8" font-size="11.6">F</text>
<text x="141.8" y="597.8" font-size="11.6" textLength="92.3" lengthAdjust="spacingAndGlyphs">Troponin complex</text>
<text x="19" y="618.2" font-size="11.4" textLength="33.4" lengthAdjust="spacingAndGlyphs">45kDa</text>
<text x="19" y="656.5" font-size="11.4" textLength="33.4" lengthAdjust="spacingAndGlyphs">23kDa</text>
<rect x="60.2" y="614.6" width="1.4" height="1.2" fill="#333"/><rect x="59.6" y="652.9" width="1.3" height="1.2" fill="#555"/>
<rect x="-1" y="621.8" width="50.7" height="18.8" fill="#fff" stroke="#111" stroke-width="1.1"/>
<text x="7.3" y="635.2" font-size="11.4" textLength="29.6" lengthAdjust="spacingAndGlyphs">Sypro</text>
<rect x="1.4" y="694.8" width="50.4" height="20" fill="#fff" stroke="#111" stroke-width="1.1"/>
<text x="9.2" y="708.6" font-size="11.4" textLength="26.5" lengthAdjust="spacingAndGlyphs">ProQ</text>
<rect x="62.2" y="606.7" width="38.4" height="63.6" fill="#e5e5e5"/>
<rect x="67.0" y="619.0" width="31.0" height="22" fill="#d4d4d4" opacity="0.8" filter="url(#bl3)"/>
<rect x="68.0" y="658.0" width="29.0" height="8" fill="#d0d0d0" opacity="0.8" filter="url(#bl3)"/>
<path d="M68.5 615.6L97 616.8" stroke="#7c7c7c" stroke-width="2.8" filter="url(#bl1b)"/>
<path d="M70 653.9L96.5 656.4" stroke="#959595" stroke-width="3" filter="url(#bl1b)"/>
<rect x="103.4" y="606.7" width="32.6" height="63.6" fill="url(#fsy)" filter="url(#ble)"/>
<rect x="147" y="606.4" width="34.7" height="64.6" fill="#e4e4e4"/>
<rect x="183.7" y="606.4" width="38.1" height="64.6" fill="#e4e4e4"/>
<rect x="223.8" y="606.4" width="37.5" height="64.6" fill="#e4e4e4"/>
<rect x="149.0" y="619.2" width="31.0" height="2.3" fill="#6c6c6c" opacity="1" filter="url(#bl1b)"/>
<rect x="149.0" y="656.4" width="32.0" height="2.6" fill="#7c7c7c" opacity="1" filter="url(#bl1b)"/>
<rect x="186.0" y="616.5" width="35.8" height="2.3" fill="#707070" opacity="1" filter="url(#bl1b)"/>
<rect x="184.0" y="654.9" width="36.0" height="2.8" fill="#7c7c7c" opacity="1" filter="url(#bl1b)"/>
<rect x="226.0" y="616.5" width="33.0" height="2.3" fill="#5a5a5a" opacity="1" filter="url(#bl1b)"/>
<rect x="226.0" y="655.6" width="33.0" height="2.8" fill="#5a5a5a" opacity="1" filter="url(#bl1b)"/>
<rect x="234" y="609" width="1" height="1" fill="#444"/><rect x="228.5" y="664.5" width="1.2" height="1.2" fill="#444"/>
<rect x="62.5" y="683.2" width="37" height="70.3" fill="#e6e6e6"/>
<rect x="67.5" y="692" width="29" height="26" fill="url(#smg)" filter="url(#bl2b)"/>
<rect x="67" y="733" width="29" height="19" fill="url(#smg)" filter="url(#bl2b)"/>
<path d="M66.7 690L96.1 693.2" stroke="#0c0c0c" stroke-width="3.6" filter="url(#bl1b)"/>
<path d="M65.5 729.8L95.4 734.5" stroke="#0c0c0c" stroke-width="4.2" filter="url(#bl1b)"/>
<rect x="102.6" y="683.2" width="34.2" height="70.3" fill="url(#fpq)" filter="url(#ble)"/>
<rect x="106.0" y="703.5" width="27.5" height="2.8" fill="#383838" opacity="1" filter="url(#bl1b)"/>
<rect x="145.5" y="683.3" width="35.9" height="70" fill="#d6d6d6"/>
<rect x="183.7" y="683.3" width="38.1" height="70" fill="#d9d9d9"/>
<rect x="223.8" y="683.3" width="37.6" height="70" fill="#dfdfdf"/>
<rect x="148.0" y="702.0" width="31.0" height="2.6" fill="#aaa" opacity="1" filter="url(#bl1b)"/>
<rect x="148.0" y="737.4" width="32.0" height="3.6" fill="#787878" opacity="1" filter="url(#bl1b)"/>
<rect x="188.0" y="698.4" width="30.0" height="2.6" fill="#bbb" opacity="1" filter="url(#bl1b)"/>
<rect x="187.0" y="736.9" width="32.0" height="3.4" fill="#8a8a8a" opacity="1" filter="url(#bl1b)"/>
<rect x="145.5" y="683.3" width="115.9" height="70" filter="url(#nz2)" opacity="0.15"/>
<rect x="181.4" y="683" width="2.3" height="71" fill="#fff"/><rect x="221.8" y="683" width="2" height="71" fill="#fff"/>
<text x="262.8" y="622.2" font-size="11.4" textLength="25.4" lengthAdjust="spacingAndGlyphs">cTnT</text>
<text x="265" y="661.2" font-size="11.4">cTnI</text>
<text x="262.8" y="701" font-size="11.4" textLength="25.4" lengthAdjust="spacingAndGlyphs">cTnT</text>
<text x="265" y="740.6" font-size="11.4">cTnI</text>
<text x="161.8" y="765.8" font-size="11.4">α</text>
<text x="202.5" y="765.8" font-size="11.4">ε</text>
<text x="234.7" y="765.8" font-size="11.4">C</text>
<text x="325.9" y="546" font-size="15.8" class="b">E</text>
<rect x="543.9" y="586.2" width="15.6" height="11.8" fill="#000"/>
<rect x="544.5" y="610" width="14.4" height="10.4" fill="#666" stroke="#000" stroke-width="1.2"/>
<text x="561.5" y="597.4" font-size="11.4" textLength="34.5" lengthAdjust="spacingAndGlyphs">PK Cα</text>
<text x="561.5" y="620.4" font-size="11.4" textLength="33" lengthAdjust="spacingAndGlyphs">PK Cε</text>
<path d="M354 632.7V737.4H602" fill="none" stroke="#000" stroke-width="1.5"/>
<path d="M354 737.4h-3.8" stroke="#000" stroke-width="1.2"/>
<text x="345.2" y="741.4" font-size="11.4" text-anchor="end">0</text>
<path d="M354 711.4h-3.8" stroke="#000" stroke-width="1.2"/>
<text x="345.2" y="715.4" font-size="11.4" text-anchor="end">1</text>
<path d="M354 685.3h-3.8" stroke="#000" stroke-width="1.2"/>
<text x="345.2" y="689.3" font-size="11.4" text-anchor="end">2</text>
<path d="M354 659.3h-3.8" stroke="#000" stroke-width="1.2"/>
<text x="345.2" y="663.3" font-size="11.4" text-anchor="end">3</text>
<path d="M354 633.3h-3.8" stroke="#000" stroke-width="1.2"/>
<text x="345.2" y="637.3" font-size="11.4" text-anchor="end">4</text>
<path d="M369.9 681.8V670.8M366.0 670.8h7.8" stroke="#000" stroke-width="1.3" fill="none"/>
<rect x="361.8" y="681.8" width="16.2" height="55.6" fill="#000" stroke="#000" stroke-width="1.2"/>
<text x="369.9" y="670.6" font-size="15" text-anchor="middle">*</text>
<path d="M386.7 649.7V637.2M382.3 637.2h8.8" stroke="#000" stroke-width="1.3" fill="none"/>
<rect x="379.2" y="649.7" width="15.1" height="87.7" fill="#666" stroke="#000" stroke-width="1.2"/>
<text x="386.7" y="637.0" font-size="15" text-anchor="middle">*</text>
<text transform="translate(382.7,747.9) rotate(-45)" font-size="11.8" text-anchor="end">cMyBP-C</text>
<path d="M419.3 704.6V702.8M415.4 702.8h7.8" stroke="#000" stroke-width="1.3" fill="none"/>
<rect x="411.2" y="704.6" width="16.2" height="32.8" fill="#000" stroke="#000" stroke-width="1.2"/>
<text x="419.3" y="702.6" font-size="15" text-anchor="middle">*</text>
<path d="M436.1 705.6V705.4M431.8 705.4h8.8" stroke="#000" stroke-width="1.3" fill="none"/>
<rect x="428.6" y="705.6" width="15.1" height="31.8" fill="#666" stroke="#000" stroke-width="1.2"/>
<text x="436.1" y="705.2" font-size="15" text-anchor="middle">*</text>
<text transform="translate(432.1,749.9) rotate(-45)" font-size="11.8" text-anchor="end">Desmin</text>
<path d="M468.3 702.0V699.1M464.4 699.1h7.8" stroke="#000" stroke-width="1.3" fill="none"/>
<rect x="460.2" y="702.0" width="16.2" height="35.4" fill="#000" stroke="#000" stroke-width="1.2"/>
<text x="468.3" y="698.9" font-size="15" text-anchor="middle">*</text>
<path d="M485.1 704.6V697.6M480.8 697.6h8.8" stroke="#000" stroke-width="1.3" fill="none"/>
<rect x="477.6" y="704.6" width="15.1" height="32.8" fill="#666" stroke="#000" stroke-width="1.2"/>
<text transform="translate(480.6,749.9) rotate(-45)" font-size="11.8" text-anchor="end">cTnT</text>
<path d="M518.0 661.9V646.6M514.1 646.6h7.8" stroke="#000" stroke-width="1.3" fill="none"/>
<rect x="509.9" y="661.9" width="16.2" height="75.5" fill="#000" stroke="#000" stroke-width="1.2"/>
<text x="518.0" y="646.4" font-size="15" text-anchor="middle">*</text>
<path d="M534.9 696.3V696.0M530.5 696.0h8.8" stroke="#000" stroke-width="1.3" fill="none"/>
<rect x="527.3" y="696.3" width="15.1" height="41.1" fill="#666" stroke="#000" stroke-width="1.2"/>
<text x="534.9" y="695.8" font-size="15" text-anchor="middle">*</text>
<text transform="translate(529.6,749.7) rotate(-45)" font-size="11.8" text-anchor="end">cTnI</text>
<path d="M567.2 707.7V705.1M563.3 705.1h7.8" stroke="#000" stroke-width="1.3" fill="none"/>
<rect x="559.1" y="707.7" width="16.2" height="29.7" fill="#000" stroke="#000" stroke-width="1.2"/>
<path d="M584.0 712.2V705.6M579.6 705.6h8.8" stroke="#000" stroke-width="1.3" fill="none"/>
<rect x="576.5" y="712.2" width="15.1" height="25.2" fill="#666" stroke="#000" stroke-width="1.2"/>
<text transform="translate(577.5,750.9) rotate(-45)" font-size="11.8" text-anchor="end">MLC-2</text>
<text transform="translate(315.8,687.5) rotate(-90)" font-size="11.7" text-anchor="middle" textLength="83" lengthAdjust="spacingAndGlyphs">Phosphorylation</text>
<text transform="translate(330.7,688) rotate(-90)" font-size="11.7" text-anchor="middle" textLength="75" lengthAdjust="spacingAndGlyphs">(fold increase)</text>
</svg></body></html>
